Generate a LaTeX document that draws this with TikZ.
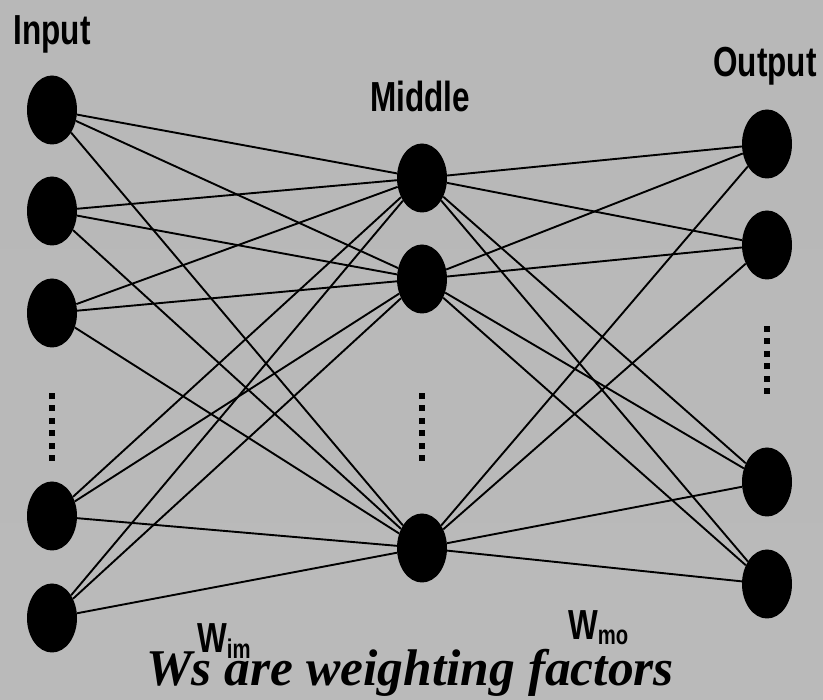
\documentclass[tikz,border=0pt]{standalone}
\usepackage{fontspec}
\setmainfont{Liberation Serif}
\newfontfamily\labfont[FakeStretch=0.75]{Liberation Sans}
\usetikzlibrary{shapes.geometric}
\tikzset{
  neuron/.style={ellipse, fill=black, draw=none, minimum width=50pt, minimum height=69pt, inner sep=0pt},
  link/.style={line width=1.9pt, black},
  dotsq/.style={fill=black, minimum size=6pt, inner sep=0pt, draw=none},
  lab/.style={inner sep=0pt, anchor=base, font=\labfont\bfseries\fontsize{42}{42}\selectfont},
}
\newcommand{\vdotcol}[3]{% x, first y, name prefix
  \foreach \k in {0,...,5} {
    \node[dotsq] (#3\k) at (#1, {#2+12.4*\k}) {};
  }
}
\begin{document}
\begin{tikzpicture}[x=1pt, y=-1pt]
\useasboundingbox (0,0) rectangle (823,700);
\shade[top color=black!28, middle color=black!13, bottom color=black!27] (0,0) rectangle (823,700);

% input
\node[neuron] (i1) at (52,110) {};
\node[neuron] (i2) at (52,211) {};
\node[neuron] (i3) at (52,313) {};
\node[neuron] (i4) at (52,516) {};
\node[neuron] (i5) at (52,618) {};
% middle
\node[neuron] (m1) at (422,178) {};
\node[neuron] (m2) at (422,279) {};
\node[neuron] (m3) at (422,548) {};
% output
\node[neuron] (o1) at (767,144) {};
\node[neuron] (o2) at (767,245) {};
\node[neuron] (o3) at (767,482) {};
\node[neuron] (o4) at (767,584) {};

\foreach \a in {i1,i2,i3,i4,i5} {
  \foreach \b in {m1,m2,m3} {
    \draw[link] (\a) -- (\b);
  }
}
\foreach \a in {m1,m2,m3} {
  \foreach \b in {o1,o2,o3,o4} {
    \draw[link] (\a) -- (\b);
  }
}

\vdotcol{52}{396}{di}
\vdotcol{421.5}{396}{dm}
\vdotcol{767}{329}{do}

\node[lab] (tin) at (52,45) {Input};
\node[lab] (tmid) at (420,112) {Middle};
\node[lab] (tout) at (765,77) {Output};

\node[lab, anchor=base west] (wim) at (197,652) {W\raisebox{-6pt}{\fontsize{27}{27}\selectfont im}};
\node[lab, anchor=base west] (wmo) at (568,640) {W\raisebox{-5pt}{\fontsize{27}{27}\selectfont mo}};

\node[inner sep=0pt, anchor=base, font=\bfseries\itshape\fontsize{51.5}{51.5}\selectfont] (cap) at (410,686) {Ws are weighting factors};
\end{tikzpicture}
\end{document}
